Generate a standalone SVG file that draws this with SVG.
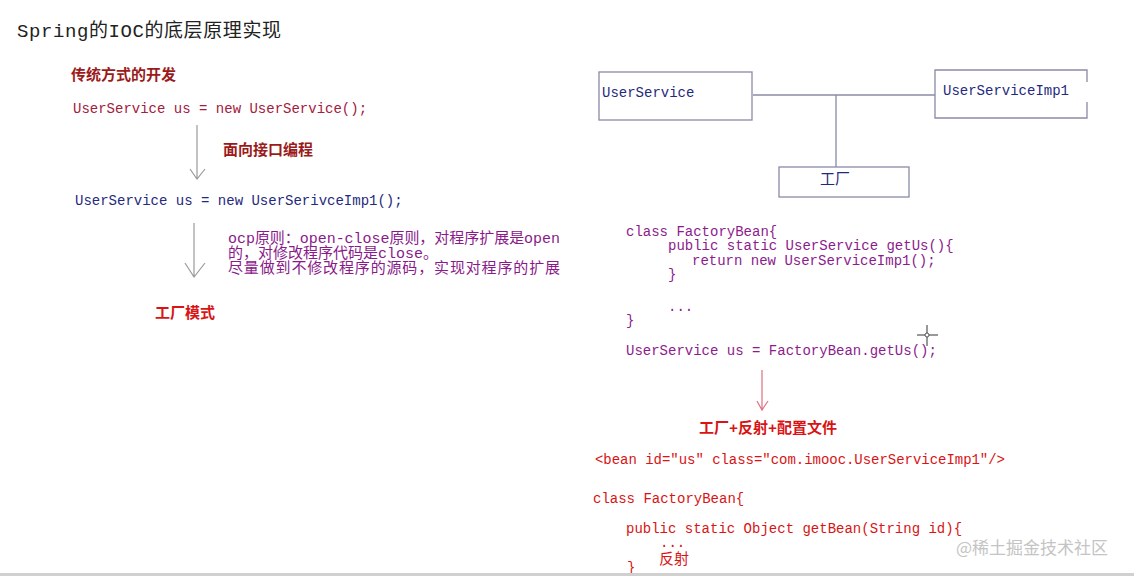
<svg xmlns="http://www.w3.org/2000/svg" width="1134" height="576" viewBox="0 0 1134 576">
<style>
.m{font-family:"Liberation Mono","Noto Sans CJK SC",monospace;font-size:14px}
.c{font-family:"Liberation Mono","Noto Sans CJK SC",monospace;font-size:15px}
.dr{fill:#9b1a1a}
.cr{fill:#a3203c}
.bl{fill:#1f2a7e}
.pu{fill:#8a1a8a}
.rd{fill:#d81414}
.mg{fill:#8c1c8c}
.box{fill:none;stroke:#8a8aa8;stroke-width:1.3}
.ln{fill:none;stroke:#8a8aa8;stroke-width:1.3}
.ar{fill:none;stroke:#9a9a9a;stroke-width:1.2}
.arr{fill:none;stroke:#e07080;stroke-width:1.2}
</style>
<rect width="1134" height="576" fill="#ffffff"/>

<text x="17" y="37" font-family="Liberation Mono,'Noto Sans CJK SC',monospace" font-size="19" fill="#222" textLength="264">Spring的IOC的底层原理实现</text>

<g id="left">
<text x="71" y="80" class="c dr" font-weight="bold">传统方式的开发</text>
<text x="73" y="113" class="m cr">UserService us = new UserService();</text>
<text x="223" y="155" class="c dr" font-weight="bold">面向接口编程</text>
<text x="75" y="205" class="m bl">UserService us = new UserSerivceImp1();</text>
<text x="228" y="243" class="c pu" textLength="332">ocp原则：open-close原则，对程序扩展是open</text>
<text x="228" y="258" class="c pu">的，对修改程序代码是close。</text>
<text x="228" y="273" class="c pu" textLength="332">尽量做到不修改程序的源码，实现对程序的扩展</text>
<text x="155" y="318" class="c rd" font-weight="bold">工厂模式</text>
</g>

<g id="connectors">
<path class="ar" d="M197 125 V178 M190 169 L197 179 L205 169"/>
<path class="ar" d="M194 223 V276 M185 263 L194 277 L205 263"/>
<path class="ln" d="M753 95 H935 M836 95 V167"/>
<path class="arr" d="M762 370 V410 M757 401 L762 410 L768 401"/>
</g>

<g id="node-userservice">
<rect class="box" x="599" y="72" width="153" height="48"/>
<text x="602" y="97" class="m bl">UserService</text>
</g>
<g id="node-userserviceimpl">
<path class="box" d="M1087 82 V70 H935 V118 H1087 V102"/>
<text x="943" y="95" class="m bl">UserServiceImp1</text>
</g>
<g id="node-factory">
<rect class="box" x="779" y="167" width="130" height="30"/>
<text x="820" y="184" class="c bl">工厂</text>
</g>

<g id="code1">
<text x="626" y="236" class="m mg">class FactoryBean{</text>
<text x="668" y="250" class="m mg">public static UserService getUs(){</text>
<text x="692" y="265" class="m mg">return new UserServiceImp1();</text>
<text x="668" y="279" class="m mg">}</text>
<text x="668" y="311" class="m mg">...</text>
<text x="626" y="325" class="m mg">}</text>
<text x="626" y="355" class="m mg">UserService us = FactoryBean.getUs();</text>
</g>
<path d="M927 325 V346 M917 335 H938" stroke="#333" stroke-width="1" fill="none"/>
<circle cx="927" cy="335" r="2" fill="#fff" stroke="#333" stroke-width="0.8"/>

<g id="code2">
<text x="699" y="433" class="c rd" font-weight="bold">工厂+反射+配置文件</text>
<text x="595" y="464" class="m rd" textLength="410">&lt;bean id="us" class="com.imooc.UserServiceImp1"/&gt;</text>
<text x="593" y="503" class="m rd">class FactoryBean{</text>
<text x="626" y="533" class="m rd">public static Object getBean(String id){</text>
<text x="660" y="547" class="m rd">...</text>
<text x="659" y="564" class="c rd">反射</text>
<text x="627" y="572" class="m rd" font-size="11">}</text>
</g>
<rect x="0" y="573" width="1134" height="3" fill="#d0d0d0"/>

<text x="956" y="554" font-family="'Noto Sans CJK SC',sans-serif" font-size="17" fill="#c4c4c4">@稀土掘金技术社区</text>
</svg>
